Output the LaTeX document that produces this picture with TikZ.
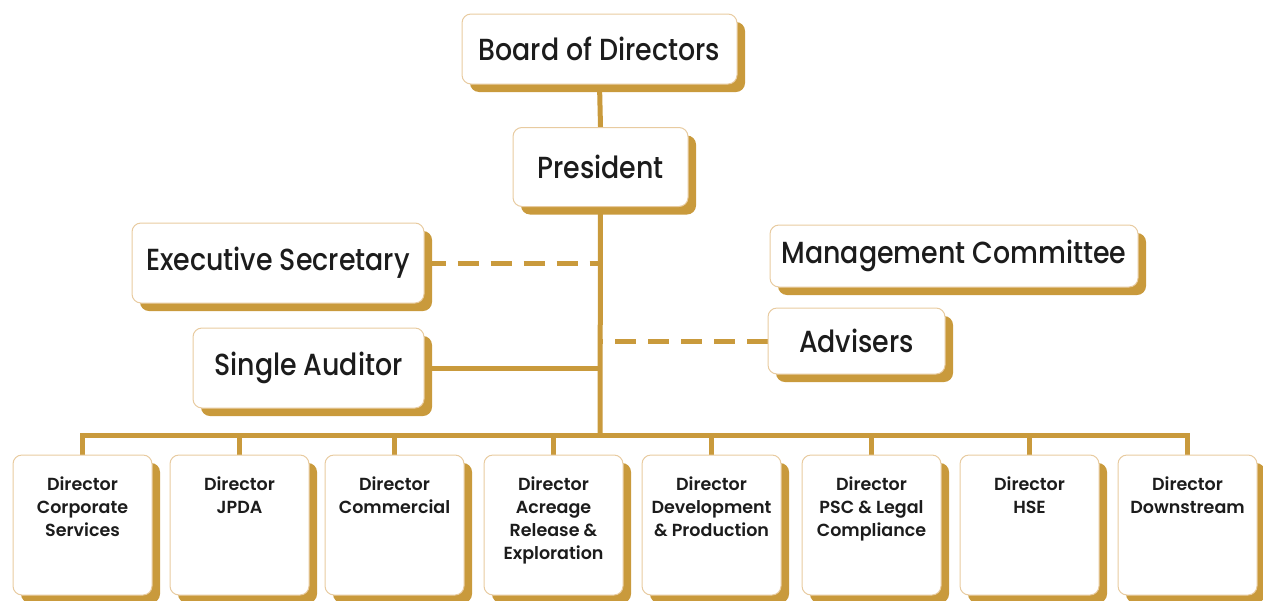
\documentclass[tikz,border=0pt]{standalone}
\usepackage{fontspec}
\setmainfont{Poppins}
\newfontfamily\medfont{Poppins Medium}[FakeStretch=0.88]
\newfontfamily\semifont{Poppins SemiBold}
\usetikzlibrary{shadows,backgrounds}
\definecolor{gold}{HTML}{C99A3C}
\definecolor{edge}{HTML}{E8CBA0}
\definecolor{ink}{HTML}{1C1C1C}
\tikzset{
  x=1pt, y=-1pt,
  box/.style={draw=edge, line width=1pt, fill=white, rounded corners=9pt,
    text=ink, inner sep=0pt, align=center,
    drop shadow={shadow xshift=8pt, shadow yshift=-8pt, fill=gold, opacity=1}},
  bigtxt/.style={font=\medfont\fontsize{30.5}{36}\selectfont},
  dirbox/.style={box, minimum width=139pt, minimum height=140pt},
  link/.style={draw=gold, line width=5pt},
  dashlink/.style={link, dash pattern=on 21pt off 12pt},
}
\newcommand{\dirtext}[1]{\begin{minipage}[c][140pt][t]{139pt}\centering
  \vspace*{22pt}\semifont\fontsize{17.5}{23}\selectfont #1\end{minipage}}
\begin{document}
\begin{tikzpicture}
\useasboundingbox (0,0) rectangle (1263,600);
\node[box, bigtxt, minimum width=275pt, minimum height=70pt] (board) at (599.5,49) {Board of Directors};
\node[box, bigtxt, minimum width=175pt, minimum height=79pt] (pres) at (600.5,167) {President};
\node[box, bigtxt, minimum width=292pt, minimum height=80pt] (exec) at (278,263) {Executive Secretary};
\node[box, bigtxt, minimum width=231pt, minimum height=80pt] (audit) at (308.5,368) {Single Auditor};
\node[box, bigtxt, minimum width=368pt, minimum height=62pt] (mgmt) at (954,256) {Management Committee};
\node[box, bigtxt, minimum width=177pt, minimum height=66pt] (adv) at (856.5,341) {Advisers};
\node[dirbox] (d1) at (82.5,525) {\dirtext{Director\\Corporate\\Services}};
\node[dirbox] (d2) at (239.5,525) {\dirtext{Director\\JPDA}};
\node[dirbox] (d3) at (394.5,525) {\dirtext{Director\\Commercial}};
\node[dirbox] (d4) at (553.5,525) {\dirtext{Director\\Acreage\\Release \&\\Exploration}};
\node[dirbox] (d5) at (711.5,525) {\dirtext{Director\\Development\\\& Production}};
\node[dirbox] (d6) at (871.5,525) {\dirtext{Director\\PSC \& Legal\\Compliance}};
\node[dirbox] (d7) at (1029.5,525) {\dirtext{Director\\HSE}};
\node[dirbox] (d8) at (1187.5,525) {\dirtext{Director\\Downstream}};
\coordinate (bus) at (600,435);
\coordinate (tE) at (600,263);
\coordinate (tA) at (600,368);
\coordinate (tV) at (600,341);
\begin{scope}[on background layer]
\draw[link] (board.south) -- (pres.north);
\draw[link] (pres.south) -- (bus);
\draw[dashlink] (exec.east) -- (tE);
\draw[link] (audit.east) -- (tA);
\draw[dashlink] (adv.west) -- (tV);
\draw[link] (d1.north) |- (bus) -| (d8.north);
\foreach \d in {d2,d3,d4,d5,d6,d7} \draw[link] (\d.north) -- (\d.north |- bus);
\end{scope}
\end{tikzpicture}
\end{document}
